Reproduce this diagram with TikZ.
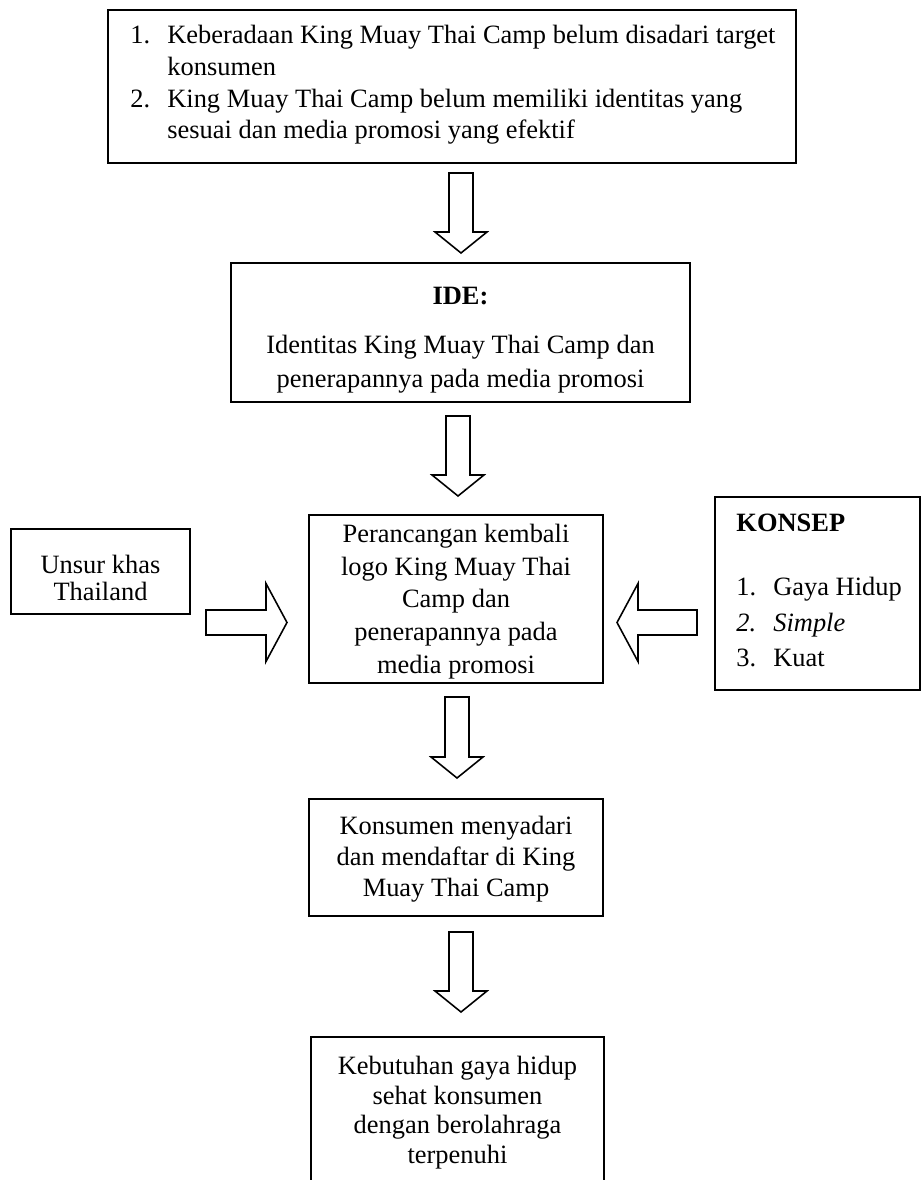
\documentclass[tikz,border=0pt]{standalone}
\usepackage{fontspec}
\setmainfont{Liberation Serif}
\usetikzlibrary{fit,calc}
\tikzset{
  box/.style={draw, line width=0.9pt, inner sep=0pt},
  txt/.style={inner sep=0pt, align=center},
  blk/.style={draw, line width=0.7pt, fill=white, line join=miter},
}
\newcommand\downblk[2]{\draw[blk] ($(#1)+(-12,0)$) -- ($(#1)+(12,0)$) -- ($(#2)+(12,-21)$) -- ($(#2)+(26,-21)$) -- (#2) -- ($(#2)+(-26,-21)$) -- ($(#2)+(-12,-21)$) -- cycle;}
\newcommand\rightblk[2]{\draw[blk] ($(#1)+(0,-12.5)$) -- ($(#2)+(-21,-12.5)$) -- ($(#2)+(-21,-39)$) -- (#2) -- ($(#2)+(-21,39)$) -- ($(#2)+(-21,12.5)$) -- ($(#1)+(0,12.5)$) -- cycle;}
\newcommand\leftblk[2]{\draw[blk] ($(#1)+(0,-12.5)$) -- ($(#2)+(21,-12.5)$) -- ($(#2)+(21,-39)$) -- (#2) -- ($(#2)+(21,39)$) -- ($(#2)+(21,12.5)$) -- ($(#1)+(0,12.5)$) -- cycle;}
\begin{document}
\begin{tikzpicture}[x=0.44444pt, y=-0.44444pt]
\useasboundingbox (0,0) rectangle (922,1180);
\clip (0,0) rectangle (922,1180);

% top box
\node[box, fit={(108,10) (796,163)}] (masalah) {};
\node[txt, align=left, anchor=west, font=\fontsize{11.75}{14.1}\selectfont] (masalahtxt) at (130,85)
 {\makebox[16.4pt][l]{1.}Keberadaan King Muay Thai Camp belum disadari target\\
  \hspace*{16.4pt}konsumen\\
  \makebox[16.4pt][l]{2.}King Muay Thai Camp belum memiliki identitas yang\\
  \hspace*{16.4pt}sesuai dan media promosi yang efektif};

% IDE box
\node[box, fit={(231,263) (690,402)}] (ide) {};
\node[txt, font=\fontsize{11.75}{15}\selectfont] (idetxt) at (460.5,340)
 {\textbf{IDE:}\\[7pt]Identitas King Muay Thai Camp dan\\penerapannya pada media promosi};

% middle box
\node[box, fit={(309,515) (603,683)}] (rancang) {};
\node[txt, font=\fontsize{11.75}{14.5}\selectfont] (rancangtxt) at (456,601.5)
 {Perancangan kembali\\logo King Muay Thai\\Camp dan\\penerapannya pada\\media promosi};

% left box
\node[box, fit={(11,529) (190,614)}] (unsur) {};
\node[txt, font=\fontsize{11.75}{12}\selectfont] (unsurtxt) at (100.5,578)
 {Unsur khas\\Thailand};

% konsep box
\node[box, fit={(715,497) (920,690)}] (konsep) {};
\node[txt, align=left, anchor=west, font=\fontsize{11.75}{15.8}\selectfont] (konseptxt) at (736,590.5)
 {\textbf{KONSEP}\\[12.6pt]
  \makebox[16.4pt][l]{1.}Gaya Hidup\\
  \makebox[16.4pt][l]{\textit{2.}}\textit{Simple}\\
  \makebox[16.4pt][l]{3.}Kuat};

% konsumen box
\node[box, fit={(309,799) (603,916)}] (konsumen) {};
\node[txt, font=\fontsize{11.75}{13.8}\selectfont] (konsumentxt) at (456,859)
 {Konsumen menyadari\\dan mendaftar di King\\Muay Thai Camp};

% bottom box
\node[box, fit={(311,1037) (604,1200)}] (hasil) {};
\node[txt, font=\fontsize{11.75}{13.2}\selectfont] (hasiltxt) at (457.5,1112.5)
 {Kebutuhan gaya hidup\\sehat konsumen\\dengan berolahraga\\terpenuhi};

% arrow end points
\coordinate (a1s) at (461,173);   \coordinate (a1t) at (461,253);
\coordinate (a2s) at (458,416);   \coordinate (a2t) at (458,496);
\coordinate (a3s) at (457,697);   \coordinate (a3t) at (457,778);
\coordinate (a4s) at (461,932);   \coordinate (a4t) at (461,1012);
\coordinate (als) at (206,622.5); \coordinate (alt) at (287,622.5);
\coordinate (ars) at (697,622.5); \coordinate (art) at (617,622.5);

\downblk{a1s}{a1t}
\downblk{a2s}{a2t}
\downblk{a3s}{a3t}
\downblk{a4s}{a4t}
\rightblk{als}{alt}
\leftblk{ars}{art}
\end{tikzpicture}
\end{document}
